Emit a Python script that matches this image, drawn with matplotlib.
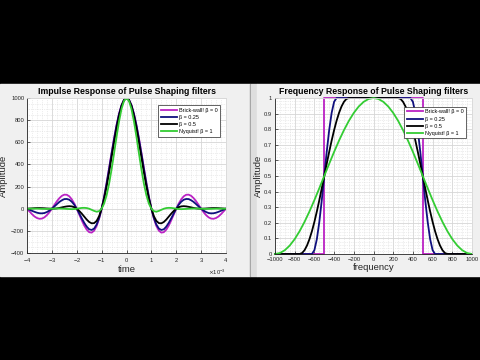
import numpy as np
import matplotlib
matplotlib.use('Agg')
import matplotlib.pyplot as plt
from matplotlib import patches
from matplotlib.ticker import AutoMinorLocator, ScalarFormatter

plt.rcParams['font.family'] = ['Liberation Sans', 'DejaVu Sans']

# impulse response, read for t = 0 .. 4 ms in 0.1 ms steps (curves are even in t)
t_half = np.linspace(0, 4e-3, 41)
h_b0 = [1000, 984, 936, 858, 757, 637, 505, 368, 234, 109, 0, -89, -156, -198, -216, -212, -189, -152,
        -104, -52, 0, 47, 85, 112, 126, 127, 116, 95, 67, 34, 0, -32, -58, -78, -89, -91, -84, -70, -49, -25, 0]
h_b25 = [1000, 983, 933, 854, 750, 627, 494, 357, 225, 104, 0, -83, -143, -179, -192, -186, -162, -127,
         -86, -42, 0, 36, 63, 81, 88, 87, 76, 61, 41, 20, 0, -17, -30, -39, -42, -41, -36, -28, -19, -9, 0]
h_b50 = [1000, 981, 927, 840, 729, 600, 464, 328, 201, 90, 0, -67, -110, -130, -132, -120, -98, -71,
         -44, -20, 0, 14, 21, 23, 21, 17, 12, 7, 3, 1, 0, 1, 2, 4, 5, 6, 6, 5, 3, 2, 0]
h_b100 = [1000, 974, 901, 788, 650, 500, 355, 225, 121, 46, 0, -22, -27, -20, -10, 0, 6, 8,
          7, 4, 0, -3, -4, -3, -2, 0, 1, 2, 2, 1, 0, -1, -1, -1, -1, 0, 1, 1, 1, 0, 0]

# frequency response
f_b0 = [-1000, -500, -500, 500, 500, 1000]
H_b0 = [0, 0, 1, 1, 0, 0]
f_b25 = [-1000, -625, -600, -575, -550, -525, -500, -475, -450, -425, -400, -375,
         375, 400, 425, 450, 475, 500, 525, 550, 575, 600, 625, 1000]
H_b25 = [0, 0, 0.0245, 0.0955, 0.2061, 0.3455, 0.5, 0.6545, 0.7939, 0.9045, 0.9755, 1,
         1, 0.9755, 0.9045, 0.7939, 0.6545, 0.5, 0.3455, 0.2061, 0.0955, 0.0245, 0, 0]
f_b50 = [-1000, -750, -725, -700, -675, -650, -625, -600, -575, -550, -525, -500, -475, -450, -425,
         -400, -375, -350, -325, -300, -275, -250,
         250, 275, 300, 325, 350, 375, 400, 425, 450, 475, 500, 525, 550, 575, 600, 625, 650, 675,
         700, 725, 750, 1000]
H_b50 = [0, 0, 0.0062, 0.0245, 0.0545, 0.0955, 0.1464, 0.2061, 0.2730, 0.3455, 0.4218, 0.5,
         0.5782, 0.6545, 0.7270, 0.7939, 0.8536, 0.9045, 0.9455, 0.9755, 0.9938, 1,
         1, 0.9938, 0.9755, 0.9455, 0.9045, 0.8536, 0.7939, 0.7270, 0.6545, 0.5782, 0.5,
         0.4218, 0.3455, 0.2730, 0.2061, 0.1464, 0.0955, 0.0545, 0.0245, 0.0062, 0, 0]
f_b100 = np.arange(-1000, 1001, 50)
H_b100 = [0, 0.0062, 0.0245, 0.0545, 0.0955, 0.1464, 0.2061, 0.2730, 0.3455, 0.4218, 0.5,
          0.5782, 0.6545, 0.7270, 0.7939, 0.8536, 0.9045, 0.9455, 0.9755, 0.9938, 1,
          0.9938, 0.9755, 0.9455, 0.9045, 0.8536, 0.7939, 0.7270, 0.6545, 0.5782, 0.5,
          0.4218, 0.3455, 0.2730, 0.2061, 0.1464, 0.0955, 0.0545, 0.0245, 0.0062, 0]

labels = ['Brick-wall! \u03b2 = 0', '\u03b2 = 0.25', '\u03b2 = 0.5', 'Nyquist! \u03b2 = 1']
colors = ['#bb22c4', '#10107e', '#000000', '#33cc33']
txt = '#262626'


def mirror(v):
    v = np.asarray(v, dtype=float)
    return np.concatenate([v[:0:-1], v])


t = np.concatenate([-t_half[:0:-1], t_half])

fig = plt.figure(figsize=(4.8, 3.6), dpi=100, facecolor='black')
W, Hh = 480.0, 360.0


def rect(x0, y0, x1, y1, c):
    # pixel box, y from top
    fig.patches.append(patches.Rectangle((x0 / W, 1 - y1 / Hh), (x1 - x0) / W, (y1 - y0) / Hh,
                                         transform=fig.transFigure, color=c, zorder=-10))


rect(0, 84, 250, 276, '#f0f0f0')
rect(250, 84, 251, 276, '#9a9a9a')
rect(251, 84, 257, 276, '#dedede')
rect(257, 84, 480, 276, '#f0f0f0')


def style(ax, xminor, yminor):
    ax.set_facecolor('white')
    ax.xaxis.set_minor_locator(AutoMinorLocator(xminor))
    ax.yaxis.set_minor_locator(AutoMinorLocator(yminor))
    ax.grid(True, which='major', color='#d6d6d6', lw=0.6)
    ax.grid(True, which='minor', color='#dcdcdc', lw=0.5, ls=':')
    ax.set_axisbelow(True)
    ax.tick_params(which='both', direction='in', labelsize=4.2, colors=txt, length=2, width=0.5, pad=2)
    ax.tick_params(which='minor', length=0)
    for s in ['left', 'bottom']:
        ax.spines[s].set_color(txt)
        ax.spines[s].set_linewidth(0.6)
    for s in ['top', 'right']:
        ax.spines[s].set_color('#d8d8d8')
        ax.spines[s].set_linewidth(0.6)


def legend(ax, **kw):
    lg = ax.legend(loc='upper right', fontsize=3.9, frameon=True, fancybox=False, handlelength=3.0,
                   labelspacing=0.4, handletextpad=0.4, borderpad=0.45, framealpha=1, **kw)
    lg.get_frame().set_edgecolor('#262626')
    lg.get_frame().set_linewidth(0.5)


# left: impulse response
ax1 = fig.add_axes([27 / W, 1 - 253 / Hh, 199 / W, 155 / Hh])
for y, lab, c in zip([h_b0, h_b25, h_b50, h_b100], labels, colors):
    ax1.plot(t, mirror(y), color=c, lw=1.3, label=lab)
ax1.set_xlim(-4e-3, 4e-3)
ax1.set_ylim(-400, 1000)
ax1.set_xticks(np.arange(-4, 5) * 1e-3)
ax1.set_yticks(np.arange(-400, 1001, 200))
fmt = ScalarFormatter(useMathText=True)
fmt.set_powerlimits((-3, -3))
ax1.xaxis.set_major_formatter(fmt)
ax1.xaxis.get_offset_text().set_fontsize(4.2)
ax1.xaxis.get_offset_text().set_color('#555555')
style(ax1, 5, 4)
ax1.set_title('Impulse Response of Pulse Shaping filters', fontsize=6.3, fontweight='bold', pad=3)
ax1.set_xlabel('time', fontsize=6.8, labelpad=1, color=txt)
ax1.set_ylabel('Amplitude', fontsize=6.8, labelpad=2, color=txt)
legend(ax1, bbox_to_anchor=(0.985, 0.97))

# right: frequency response
ax2 = fig.add_axes([275 / W, 1 - 254 / Hh, 197 / W, 156 / Hh])
for f, y, lab, c in zip([f_b0, f_b25, f_b50, f_b100], [H_b0, H_b25, H_b50, H_b100], labels, colors):
    ax2.plot(f, y, color=c, lw=1.3, label=lab, clip_on=False)
ax2.set_xlim(-1000, 1000)
ax2.set_ylim(0, 1)
ax2.set_xticks(np.arange(-1000, 1001, 200))
ax2.set_yticks(np.arange(0, 1.01, 0.1))
ax2.set_yticklabels(['0', '0.1', '0.2', '0.3', '0.4', '0.5', '0.6', '0.7', '0.8', '0.9', '1'])
style(ax2, 4, 5)
ax2.set_title('Frequency Response of Pulse Shaping filters', fontsize=6.3, fontweight='bold', pad=3)
ax2.set_xlabel('frequency', fontsize=6.8, labelpad=1, color=txt)
ax2.set_ylabel('Amplitude', fontsize=6.8, labelpad=1, color=txt)
legend(ax2, bbox_to_anchor=(0.985, 0.96))

fig.savefig('out.png', dpi=100, facecolor='black')
